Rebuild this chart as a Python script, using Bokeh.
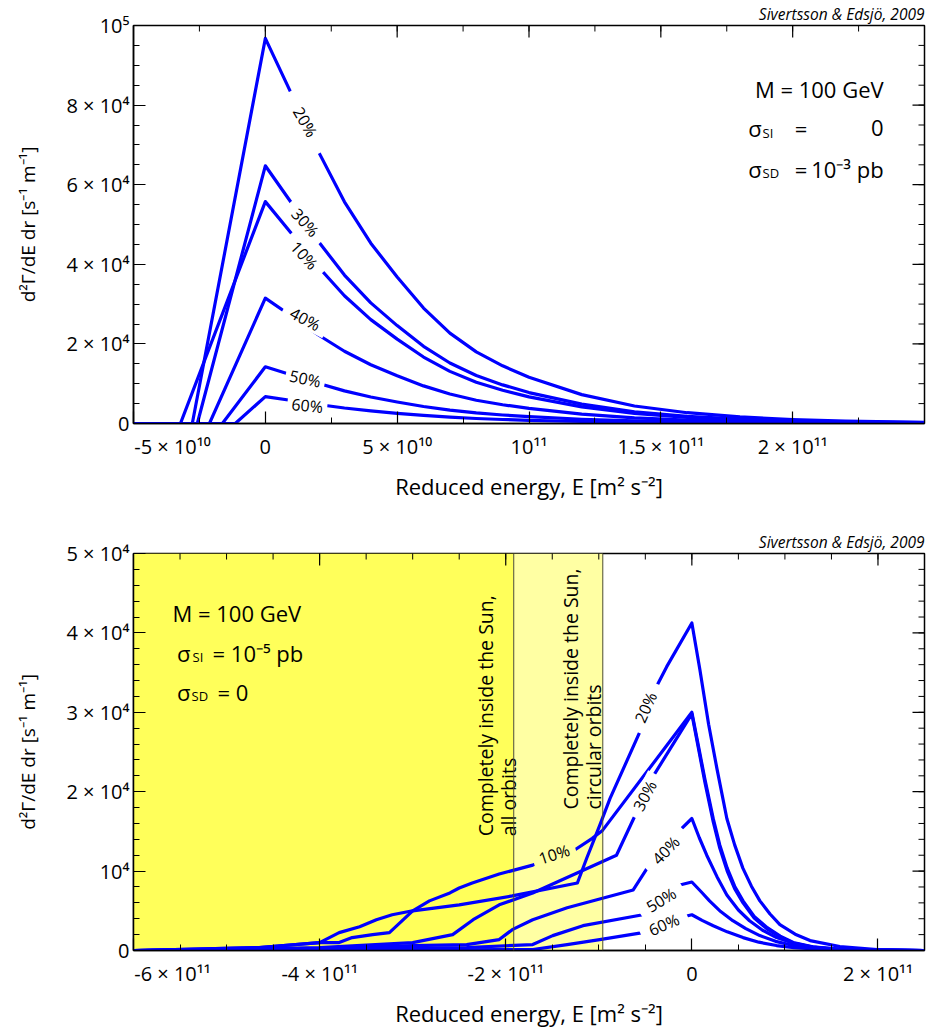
import numpy as np
from bokeh.plotting import figure
from bokeh.models import FixedTicker, Span, Range1d
from bokeh.layouts import column
from bokeh.embed import file_html
from bokeh.resources import INLINE
from bokeh.core.properties import value

FONT = "Open Sans"
BLUE = "#0000ff"
YELLOW = "#ffff5a"
LIGHT_YELLOW = "#ffffa3"
CREDIT = "Sivertsson & Edsjö, 2009"
NB = "\u00a0"

# ---------------- Top panel (sigma_SI = 0, sigma_SD = 1e-3 pb) ----------------
top_xrange = (-5e10, 2.5e11)
top_yrange = (0, 1e5)
top_names = ["10%", "20%", "30%", "40%", "50%", "60%"]
top_start = [-3.22e10, -2.77e10, -2.58e10, -2.12e10, -1.63e10, -1.14e10]
top_E = [0, 1e10, 2e10, 3e10, 4e10, 5e10, 6e10, 7e10, 8e10, 9e10, 1e11, 1.2e11,
         1.4e11, 1.6e11, 1.8e11, 2e11, 2.2e11, 2.5e11]
top_10 = [55750, 47650, 39450, 32100, 26100, 21200, 16700, 13100, 10350, 8350, 6690,
          4180, 2540, 1560, 950, 560, 335, 170]
top_20 = [96750, 82700, 68500, 55700, 45300, 36800, 29000, 22700, 18000, 14500, 11600,
          7260, 4400, 2710, 1645, 970, 580, 290]
top_30 = [64750, 55350, 45850, 37300, 30300, 24600, 19400, 15200, 12050, 9700, 7770,
          4860, 2950, 1810, 1100, 650, 390, 195]
top_40 = [31500, 26950, 22300, 18150, 14750, 12000, 9450, 7400, 5850, 4720, 3780,
          2360, 1430, 880, 535, 315, 190, 95]
top_50 = [14250, 12200, 10100, 8200, 6670, 5400, 4280, 3350, 2650, 2140, 1710,
          1070, 650, 400, 240, 140, 85, 45]
top_60 = [6750, 5770, 4780, 3890, 3160, 2560, 2030, 1590, 1260, 1010, 810,
          505, 305, 190, 115, 70, 40, 20]
top_series = [top_10, top_20, top_30, top_40, top_50, top_60]

# curve labels: x, y, angle (deg), gap length (px)
top_lab_x = [1.48e10, 1.515e10, 1.515e10, 1.515e10, 1.515e10, 1.59e10]
top_lab_y = [42250, 75750, 50500, 26250, 11250, 4500]
top_lab_ang = [-48, -60, -48, -28, -12, -6]
top_lab_gap = [50, 68, 50, 48, 40, 40]

top_xticks = [-5e10, 0, 5e10, 1e11, 1.5e11, 2e11]
top_xminor = [-5e10 + 2.5e10 * i for i in range(13)]
top_xlabels = {-5e10: NB * 15 + "-5 × 10¹⁰", 0: "0", 5e10: "5 × 10¹⁰", 1e11: "10¹¹",
               1.5e11: "1.5 × 10¹¹", 2e11: "2 × 10¹¹"}
top_yticks = [0, 2e4, 4e4, 6e4, 8e4, 1e5]
top_yminor = [5000 * i for i in range(21)]
top_ylabels = {0: "0", 2e4: "2 × 10⁴", 4e4: "4 × 10⁴", 6e4: "6 × 10⁴",
               8e4: "8 × 10⁴", 1e5: "10⁵"}

# ---------------- Bottom panel (sigma_SI = 1e-5 pb, sigma_SD = 0) ----------------
bot_xrange = (-6e11, 2.5e11)
bot_yrange = (0, 5e4)
all_orbits_edge = -1.914e11
circular_edge = -0.957e11

# energies in units of 1e11 m^2 s^-2
b10_x = [-6.0, -4.65, -4.0, -3.79, -3.65, -3.43, -3.25, -3.0, -2.82, -2.6, -2.5, -2.36,
         -2.07, -1.71, -1.5, -1.28, -1.07, -0.96, 0, 0.07, 0.14, 0.23, 0.30, 0.38, 0.46,
         0.55, 0.67, 0.81, 0.95, 1.09, 1.3, 1.6, 2.0, 2.5]
b10_y = [0, 375, 1000, 1000, 1625, 2000, 2250, 5000, 6250, 7250, 7875, 8500,
         9625, 10750, 11900, 12500, 14125, 15125, 30000, 25800, 21600, 16600, 13300, 10375, 8100,
         6250, 4300, 2875, 1800, 1000, 450, 150, 40, 0]
b20_x = [-6.0, -4.65, -4.0, -3.79, -3.57, -3.39, -3.22, -3.0, -2.5, -1.93, -1.23, -1.13,
         -0.99, -0.88, -0.56, -0.38, -0.27, 0, 0.086, 0.18, 0.27, 0.376, 0.46, 0.548, 0.64,
         0.731, 0.84, 0.946, 1.11, 1.27, 1.59, 1.99, 2.5]
b20_y = [0, 375, 1000, 2250, 3000, 3875, 4500, 5000, 5750, 6875, 8500, 11625,
         15750, 19125, 27500, 33250, 35750, 41250, 35400, 28500, 22875, 16625, 13300, 10375, 8100,
         6250, 4600, 3250, 2050, 1250, 500, 125, 0]
b30_x = [-6.0, -5.0, -4.0, -3.0, -2.57, -2.35, -2.07, -1.71, -0.81, -0.59, -0.40, 0,
         0.07, 0.14, 0.23, 0.30, 0.38, 0.46, 0.55, 0.67, 0.81, 0.95, 1.09, 1.3, 1.6, 2.0, 2.5]
b30_y = [0, 125, 375, 1000, 2000, 3875, 5750, 7250, 12000, 17500, 22250, 29800,
         25500, 21200, 16200, 12900, 10000, 7800, 6000, 4100, 2700, 1700, 950, 420, 140, 35, 0]
b40_x = [-6.0, -4.0, -3.0, -2.42, -2.07, -1.93, -1.71, -1.34, -0.63, -0.48, -0.13, 0,
         0.08, 0.16, 0.27, 0.376, 0.5, 0.62, 0.76, 0.91, 1.09, 1.27, 1.5, 1.9, 2.5]
b40_y = [0, 250, 625, 750, 1375, 2625, 3875, 5375, 7625, 10375, 15125, 16625,
         14200, 12000, 9300, 7000, 5100, 3750, 2550, 1625, 900, 450, 180, 50, 0]
b50_x = [-6.0, -4.0, -2.42, -1.71, -1.495, -1.17, -0.527, -0.129, 0, 0.1, 0.19, 0.31,
         0.44, 0.58, 0.73, 0.9, 1.09, 1.3, 1.6, 2.0, 2.5]
b50_y = [0, 125, 375, 750, 1875, 3125, 4500, 8250, 8625, 7400, 6250, 4900,
         3750, 2750, 1875, 1150, 625, 330, 130, 35, 0]
b60_x = [-6.0, -4.0, -2.0, -1.71, -1.34, -0.99, -0.527, -0.043, 0, 0.11, 0.23, 0.38,
         0.55, 0.72, 0.91, 1.1, 1.4, 1.8, 2.5]
b60_y = [0, 50, 100, 125, 750, 1375, 2250, 4375, 4500, 3800, 3125, 2350,
         1625, 1050, 625, 350, 150, 40, 0]
bot_series_x = [b10_x, b20_x, b30_x, b40_x, b50_x, b60_x]
bot_series_y = [b10_y, b20_y, b30_y, b40_y, b50_y, b60_y]

bot_lab_x = [-1.48e11, -0.495e11, -0.505e11, -0.28e11, -0.33e11, -0.30e11]
bot_lab_y = [12125, 30625, 19500, 12625, 6375, 3250]
bot_lab_ang = [18, 66, 62, 46, 32, 24]
bot_lab_gap = [44, 52, 48, 54, 50, 50]
bot_lab_bg = [LIGHT_YELLOW, "white", "white", "white", "white", "white"]

bot_xticks = [-6e11, -4e11, -2e11, 0, 2e11]
bot_xminor = [-6e11 + 5e10 * i for i in range(18)]
bot_xlabels = {-6e11: NB * 15 + "-6 × 10¹¹", -4e11: "-4 × 10¹¹", -2e11: "-2 × 10¹¹",
               0: "0", 2e11: "2 × 10¹¹"}
bot_yticks = [0, 1e4, 2e4, 3e4, 4e4, 5e4]
bot_yminor = [2000 * i for i in range(26)]
bot_ylabels = {0: "0", 1e4: "10⁴", 2e4: "2 × 10⁴", 3e4: "3 × 10⁴",
               4e4: "4 × 10⁴", 5e4: "5 × 10⁴"}

XLABEL = "Reduced energy, E [m² s⁻²]"
YLABEL = "d²Γ/dE dr [s⁻¹ m⁻¹]"


def style_axis(ax, ticks, minor, overrides):
    ax.ticker = FixedTicker(ticks=ticks, minor_ticks=minor)
    ax.major_tick_in = 12
    ax.major_tick_out = 0
    ax.minor_tick_in = 6
    ax.minor_tick_out = 0
    ax.axis_line_color = "black"
    ax.axis_line_width = 1.5
    ax.major_tick_line_color = "black"
    ax.minor_tick_line_color = "black"
    ax.major_tick_line_width = 1.2
    ax.minor_tick_line_width = 1
    ax.major_label_text_font = FONT
    ax.major_label_text_color = "black"
    ax.major_label_text_font_size = "20px"
    ax.major_label_overrides = overrides
    ax.axis_label_text_font = FONT
    ax.axis_label_text_font_style = "normal"
    ax.axis_label_text_color = "black"


def make_fig(xr, yr, height, border_top, border_bottom):
    p = figure(width=927, height=height, x_range=Range1d(*xr), y_range=Range1d(*yr),
               output_backend="svg", toolbar_location=None,
               min_border_left=133, min_border_right=3,
               min_border_top=border_top, min_border_bottom=border_bottom)
    p.grid.visible = False
    p.outline_line_color = "black"
    p.outline_line_width = 1.5
    p.background_fill_color = "white"
    p.border_fill_color = "white"
    p.title.text = CREDIT
    p.title.align = "right"
    p.title.text_font = FONT
    p.title.text_font_size = "15.5px"
    p.title.text_font_style = "italic"
    p.title.text_color = "black"
    p.title.standoff = 1
    return p


def finish_axes(p, xr, yr, xt, xm, xl, yt, ym, yl):
    xa = p.xaxis[0]
    ya = p.yaxis[0]
    style_axis(xa, xt, xm, xl)
    style_axis(ya, yt, ym, yl)
    xa.major_label_standoff = 9
    ya.major_label_standoff = 4
    xa.axis_label = XLABEL
    ya.axis_label = YLABEL
    xa.axis_label_text_font_size = "22px"
    ya.axis_label_text_font_size = "19px"
    xa.axis_label_standoff = 8
    ya.axis_label_standoff = 22
    # mirrored ticks on the top and right frame edges (half of each dash is clipped)
    top_major = [t for t in xt if xr[0] < t < xr[1]]
    top_minor = [t for t in xm if xr[0] < t < xr[1]]
    right_major = [t for t in yt if yr[0] < t < yr[1]]
    right_minor = [t for t in ym if yr[0] < t < yr[1]]
    p.scatter(top_major, [yr[1]] * len(top_major), marker="dash", angle=np.pi / 2,
              size=24, line_color="black", line_width=1.2)
    p.scatter(top_minor, [yr[1]] * len(top_minor), marker="dash", angle=np.pi / 2,
              size=12, line_color="black", line_width=1)
    p.scatter([xr[1]] * len(right_major), right_major, marker="dash",
              size=24, line_color="black", line_width=1.2)
    p.scatter([xr[1]] * len(right_minor), right_minor, marker="dash",
              size=12, line_color="black", line_width=1)


def curve_labels(p, xs, ys, names, angs, gaps, bgs):
    for x, y, t, a, g, bg in zip(xs, ys, names, angs, gaps, bgs):
        r = np.deg2rad(a)
        p.rect(x=[x], y=[y], width=g, height=18, angle=r,
               width_units="screen", height_units="screen",
               fill_color=bg, line_color=None)
        p.text(x=[x], y=[y], text=[t], angle=r, text_font=value(FONT),
               text_font_size="16px", text_align="center", text_baseline="middle",
               text_color="black")


def txt(p, x, y, t, size="22px", align="left"):
    p.text(x=[x], y=[y], text=[t], text_font=value(FONT), text_font_size=size,
           text_align=align, text_baseline="alphabetic", text_color="black")


# ======================= TOP FIGURE =======================
p1 = make_fig(top_xrange, top_yrange, 515, 23, 92)
for s0, vals in zip(top_start, top_series):
    xs = [top_xrange[0], s0] + top_E
    ys = [0, 0] + vals
    p1.line(xs, ys, line_color=BLUE, line_width=3.2, line_join="round")
curve_labels(p1, top_lab_x, top_lab_y, top_names, top_lab_ang, top_lab_gap,
             ["white"] * 6)
finish_axes(p1, top_xrange, top_yrange, top_xticks, top_xminor, top_xlabels,
            top_yticks, top_yminor, top_ylabels)
txt(p1, 2.345e11, 84000, "M = 100 GeV", align="right")
txt(p1, 1.883e11, 74250, "σ", align="right")
txt(p1, 1.886e11, 73000, "SI", size="13px")
txt(p1, 2.008e11, 74250, "=")
txt(p1, 2.345e11, 74250, "0", align="right")
txt(p1, 1.883e11, 64000, "σ", align="right")
txt(p1, 1.886e11, 63000, "SD", size="13px")
txt(p1, 2.008e11, 64000, "=")
txt(p1, 2.345e11, 64000, "10⁻³ pb", align="right")

# ======================= BOTTOM FIGURE =======================
p2 = make_fig(bot_xrange, bot_yrange, 515, 38, 77)
p2.quad(left=[bot_xrange[0], all_orbits_edge], right=[all_orbits_edge, circular_edge],
        bottom=[bot_yrange[0]] * 2, top=[bot_yrange[1]] * 2,
        fill_color=[YELLOW, LIGHT_YELLOW], line_color=None)
for loc in (all_orbits_edge, circular_edge):
    p2.add_layout(Span(location=loc, dimension="height", line_color="#4d4d33",
                       line_width=1))
for xs, ys in zip(bot_series_x, bot_series_y):
    p2.line([v * 1e11 for v in xs], ys, line_color=BLUE, line_width=3.2,
            line_join="round")
curve_labels(p2, bot_lab_x, bot_lab_y, top_names, bot_lab_ang, bot_lab_gap, bot_lab_bg)
finish_axes(p2, bot_xrange, bot_yrange, bot_xticks, bot_xminor, bot_xlabels,
            bot_yticks, bot_yminor, bot_ylabels)
for x, y, t in [(-2.366e11, 14375, "Completely inside the Sun,"),
                (-2.118e11, 14375, "all orbits"),
                (-1.452e11, 17750, "Completely inside the Sun,"),
                (-1.204e11, 17750, "circular orbits")]:
    p2.text(x=[x], y=[y], text=[t], angle=np.pi / 2, text_font=value(FONT),
            text_font_size="19.5px", text_align="left", text_baseline="top",
            text_color="black")
txt(p2, -5.581e11, 42500, "M = 100 GeV")
txt(p2, -5.387e11, 37500, "σ", align="right")
txt(p2, -5.366e11, 37000, "SI", size="13px")
txt(p2, -5.151e11, 37500, "= 10⁻⁵ pb")
txt(p2, -5.387e11, 32500, "σ", align="right")
txt(p2, -5.376e11, 32000, "SD", size="13px")
txt(p2, -5.097e11, 32500, "= 0")

layout = column(p1, p2)
open("out.html", "w").write(file_html(layout, INLINE))
